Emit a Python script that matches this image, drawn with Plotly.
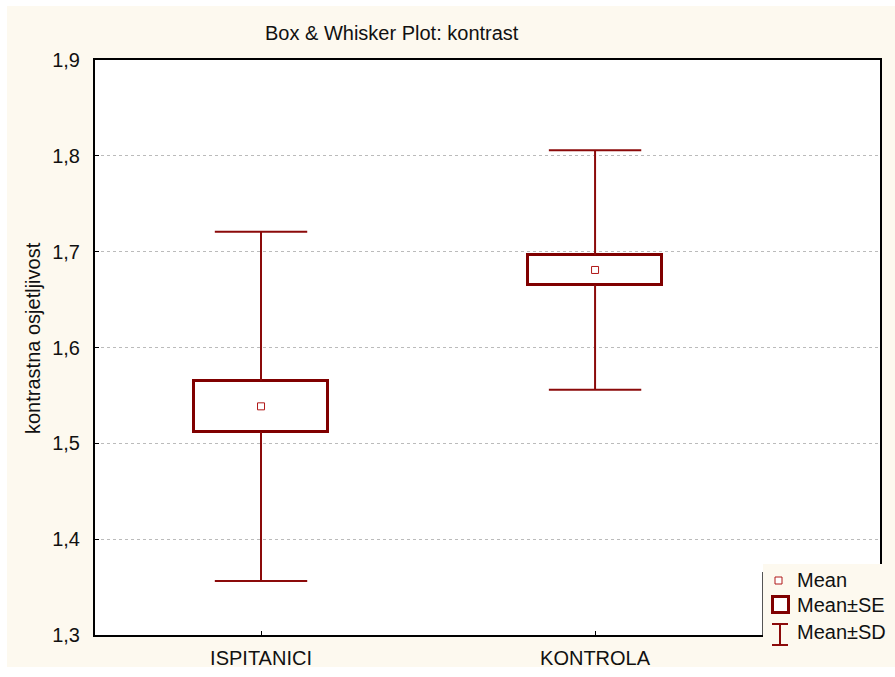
import plotly.graph_objects as go

# Group statistics for the contrast-sensitivity measurement
groups = ["ISPITANICI", "KONTROLA"]
means = [1.5386, 1.6809]
se = [0.0268, 0.0155]
sd = [0.1823, 0.1250]

y_ticks = [1.3, 1.4, 1.5, 1.6, 1.7, 1.8, 1.9]

BOX_RED = "#800000"
WHISKER_RED = "#8B0A0A"
MEAN_RED = "#B01818"
CREAM = "#FDF9EF"
FONT = "Liberation Sans, Arial, sans-serif"
FS = 20

xpos = list(range(len(groups)))
box_lo = [m - s for m, s in zip(means, se)]
box_hi = [m + s for m, s in zip(means, se)]
sd_lo = [m - d for m, d in zip(means, sd)]
sd_hi = [m + d for m, d in zip(means, sd)]

fig = go.Figure()

# Whisker stems: from the box edges out to mean ± SD
fig.add_trace(go.Scatter(
    x=xpos, y=box_lo, mode="markers", marker=dict(size=1, opacity=0),
    error_y=dict(type="data", symmetric=False,
                 array=[0] * len(means),
                 arrayminus=[b - l for b, l in zip(box_lo, sd_lo)],
                 color=WHISKER_RED, thickness=2, width=0),
    showlegend=False, hoverinfo="skip"))
fig.add_trace(go.Scatter(
    x=xpos, y=box_hi, mode="markers", marker=dict(size=1, opacity=0),
    error_y=dict(type="data", symmetric=False,
                 array=[h - b for h, b in zip(sd_hi, box_hi)],
                 arrayminus=[0] * len(means),
                 color=WHISKER_RED, thickness=2, width=0),
    showlegend=False, hoverinfo="skip"))

# Whisker caps at mean ± SD
fig.add_trace(go.Scatter(
    x=xpos + xpos, y=sd_lo + sd_hi, mode="markers",
    marker=dict(symbol="line-ew", size=66,
                line=dict(color=WHISKER_RED, width=2)),
    showlegend=False, hoverinfo="skip"))

# Mean ± SE box
fig.add_trace(go.Bar(
    x=xpos, y=[h - l for h, l in zip(box_hi, box_lo)],
    base=box_lo,
    width=0.4,
    marker=dict(color="white", line=dict(color=BOX_RED, width=3)),
    showlegend=False, hoverinfo="skip"))

# Mean markers
fig.add_trace(go.Scatter(
    x=xpos, y=means, mode="markers",
    marker=dict(symbol="square-open", size=7, color=MEAN_RED,
                line=dict(width=1, color=MEAN_RED)),
    showlegend=False, hoverinfo="skip"))

# Figure geometry (pixels) used for paper-coordinate conversion
W, H = 895, 677
L, R, T, B = 95, 15, 60, 42
PW, PH = W - L - R, H - T - B


def px(x):
    return (x - L) / PW


def py(y):
    return (H - B - y) / PH


shapes = []
# White outer border strips
shapes.append(dict(type="rect", xref="paper", yref="paper", layer="above",
                   x0=px(0), x1=px(W), y0=py(0), y1=py(6),
                   fillcolor="white", line=dict(width=0)))
shapes.append(dict(type="rect", xref="paper", yref="paper", layer="above",
                   x0=px(0), x1=px(7), y0=py(0), y1=py(H),
                   fillcolor="white", line=dict(width=0)))
shapes.append(dict(type="rect", xref="paper", yref="paper", layer="above",
                   x0=px(0), x1=px(W), y0=py(667), y1=py(H),
                   fillcolor="white", line=dict(width=0)))

# Legend panel
shapes.append(dict(type="rect", xref="paper", yref="paper", layer="above",
                   x0=px(763), x1=px(W), y0=py(564), y1=py(667),
                   fillcolor=CREAM, line=dict(width=0)))
shapes.append(dict(type="line", xref="paper", yref="paper", layer="above",
                   x0=px(762.5), x1=px(762.5), y0=py(572), y1=py(635),
                   line=dict(color="#555555", width=1)))
# Legend: mean marker
shapes.append(dict(type="rect", xref="paper", yref="paper", layer="above",
                   x0=px(775), x1=px(782), y0=py(577), y1=py(584),
                   fillcolor="white", line=dict(color=MEAN_RED, width=1)))
# Legend: SE box
shapes.append(dict(type="rect", xref="paper", yref="paper", layer="above",
                   x0=px(772.5), x1=px(788.5), y0=py(596.5), y1=py(612.5),
                   fillcolor="white", line=dict(color=BOX_RED, width=3)))
# Legend: SD whisker
for seg in [(772, 788, 624, 624), (780, 780, 624, 645), (772, 788, 645, 645)]:
    shapes.append(dict(type="line", xref="paper", yref="paper", layer="above",
                       x0=px(seg[0]), x1=px(seg[1]), y0=py(seg[2]), y1=py(seg[3]),
                       line=dict(color=WHISKER_RED, width=2)))

annotations = [
    dict(text="Box &amp; Whisker Plot: kontrast", xref="paper", yref="paper",
         x=px(392), y=py(33), showarrow=False, xanchor="center", yanchor="middle",
         font=dict(family=FONT, size=FS, color="#111111")),
    dict(text="kontrastna osjetljivost", xref="paper", yref="paper",
         x=px(33), y=py(338), showarrow=False, textangle=-90,
         xanchor="center", yanchor="middle",
         font=dict(family=FONT, size=FS, color="#111111")),
]
for label, ypix in [("Mean", 580), ("Mean±SE", 605), ("Mean±SD", 632)]:
    annotations.append(dict(text=label, xref="paper", yref="paper",
                            x=px(795), y=py(ypix), showarrow=False,
                            xanchor="left", yanchor="middle",
                            font=dict(family=FONT, size=FS, color="#111111")))

fig.update_layout(
    width=W, height=H,
    margin=dict(l=L, r=R, t=T, b=B, pad=0, autoexpand=False),
    paper_bgcolor=CREAM, plot_bgcolor="white",
    separators=",.",
    bargap=0,
    font=dict(family=FONT, size=FS, color="#111111"),
    shapes=shapes, annotations=annotations,
    showlegend=False,
)

fig.update_xaxes(
    range=[-0.497, 1.853],
    tickvals=xpos, ticktext=groups,
    ticks="inside", ticklen=4, tickcolor="black", tickwidth=1,
    showline=True, linecolor="black", linewidth=2, mirror=True,
    showgrid=False, zeroline=False, automargin=False,
    tickfont=dict(family=FONT, size=FS, color="#111111"),
    ticklabelstandoff=4,
)

fig.update_yaxes(
    range=[1.3, 1.9],
    tickvals=y_ticks, tickformat=".1f",
    ticks="inside", ticklen=4, tickcolor="black", tickwidth=1,
    showline=True, linecolor="black", linewidth=2, mirror=True,
    showgrid=True, gridcolor="#BBBBBB", griddash="dot", gridwidth=1,
    zeroline=False, automargin=False,
    tickfont=dict(family=FONT, size=FS, color="#111111"),
    ticklabelstandoff=9,
)

fig.write_html("out.html")
